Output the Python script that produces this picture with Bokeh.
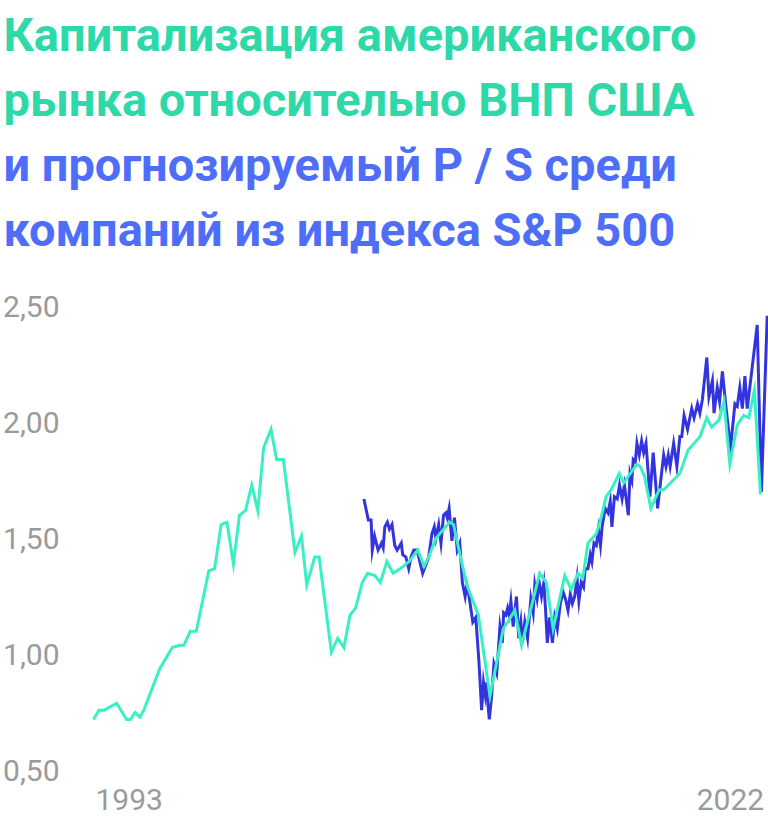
from bokeh.plotting import figure
from bokeh.models import Range1d, FixedTicker, Title, Label
from bokeh.embed import file_html
from bokeh.resources import INLINE

title_lines = [
    "Капитализация американского",
    "рынка относительно ВНП США",
    "и прогнозируемый P / S среди",
    "компаний из индекса S&P 500",
]
title_colors = ["#2ED9A9", "#2ED9A9", "#4F6EF7", "#4F6EF7"]

y_ticks = [0.5, 1.0, 1.5, 2.0, 2.5]
y_tick_labels = ["0,50", "1,00", "1,50", "2,00", "2,50"]
year_labels = ["1993", "2022"]

# market cap / GNP (quarterly-ish)
green_dates = [1993.00, 1993.24, 1993.47, 1994.00, 1994.43, 1994.60, 1994.79, 1995.00, 1995.17, 1995.86,
               1996.40, 1996.72, 1996.90, 1997.17, 1997.43, 1997.97, 1998.22, 1998.50, 1998.75, 1999.03,
               1999.29, 1999.55, 1999.82, 2000.08, 2000.33, 2000.65, 2000.89, 2001.18, 2001.68, 2001.96,
               2002.19, 2002.53, 2002.72, 2003.25, 2003.52, 2003.79, 2004.05, 2004.29, 2004.58, 2004.81,
               2005.12, 2005.36, 2005.64, 2005.91, 2006.22, 2006.59, 2006.97, 2007.24, 2007.44, 2007.75,
               2008.08, 2008.34, 2008.51, 2008.79, 2009.08, 2009.58, 2010.08, 2010.65, 2011.15, 2011.44,
               2011.87, 2012.22, 2012.51, 2012.80, 2013.30, 2013.58, 2013.87, 2014.08, 2014.30, 2014.66,
               2014.87, 2015.08, 2015.30, 2015.65, 2015.84, 2016.41, 2016.55, 2016.73, 2017.01, 2017.37,
               2017.56, 2018.26, 2018.61, 2019.13, 2019.42, 2019.63, 2019.94, 2020.16, 2020.41, 2020.73,
               2021.01, 2021.23, 2021.47, 2021.73]
green_values = [0.72, 0.76, 0.76, 0.79, 0.72, 0.72, 0.75, 0.73, 0.76, 0.94,
                1.03, 1.04, 1.04, 1.10, 1.10, 1.36, 1.37, 1.56, 1.57, 1.39,
                1.60, 1.62, 1.73, 1.62, 1.89, 1.97, 1.84, 1.84, 1.44, 1.51,
                1.30, 1.42, 1.42, 1.01, 1.07, 1.03, 1.17, 1.20, 1.31, 1.35,
                1.34, 1.31, 1.40, 1.35, 1.37, 1.40, 1.45, 1.38, 1.42, 1.50,
                1.54, 1.57, 1.56, 1.43, 1.30, 1.17, 0.82, 1.11, 1.19, 1.04,
                1.21, 1.35, 1.31, 1.11, 1.34, 1.28, 1.35, 1.33, 1.48, 1.52,
                1.59, 1.68, 1.71, 1.78, 1.74, 1.82, 1.81, 1.77, 1.63, 1.71,
                1.71, 1.78, 1.88, 1.94, 2.02, 1.98, 2.01, 2.09, 1.82, 1.99,
                2.03, 2.02, 2.14, 1.69]

# forward P/S of S&P 500 (monthly-ish)
blue_dates = [2004.65, 2004.84, 2004.96, 2005.01, 2005.11, 2005.26, 2005.41, 2005.48, 2005.55, 2005.66,
              2005.75, 2005.86, 2005.98, 2006.08, 2006.26, 2006.32, 2006.46, 2006.58, 2006.68, 2006.80,
              2006.94, 2007.01, 2007.18, 2007.44, 2007.58, 2007.68, 2007.75, 2007.87, 2007.97, 2008.08,
              2008.18, 2008.24, 2008.32, 2008.44, 2008.55, 2008.67, 2008.78, 2008.89, 2009.01, 2009.08,
              2009.18, 2009.34, 2009.47, 2009.61, 2009.72, 2009.80, 2009.87, 2009.91, 2010.05, 2010.15,
              2010.25, 2010.37, 2010.51, 2010.61, 2010.67, 2010.77, 2010.84, 2010.91, 2010.98, 2011.08,
              2011.22, 2011.32, 2011.41, 2011.48, 2011.58, 2011.70, 2011.84, 2011.94, 2012.01, 2012.11,
              2012.20, 2012.30, 2012.40, 2012.47, 2012.55, 2012.65, 2012.77, 2012.87, 2012.98, 2013.11,
              2013.23, 2013.33, 2013.44, 2013.54, 2013.63, 2013.73, 2013.83, 2013.91, 2014.01, 2014.11,
              2014.18, 2014.30, 2014.40, 2014.47, 2014.56, 2014.66, 2014.75, 2014.84, 2014.91, 2015.04,
              2015.16, 2015.26, 2015.33, 2015.44, 2015.56, 2015.66, 2015.77, 2015.87, 2016.04, 2016.11,
              2016.19, 2016.25, 2016.34, 2016.41, 2016.51, 2016.61, 2016.70, 2016.80, 2016.97, 2017.11,
              2017.30, 2017.56, 2017.66, 2017.76, 2017.84, 2017.99, 2018.13, 2018.26, 2018.34, 2018.44,
              2018.59, 2018.77, 2018.87, 2019.02, 2019.12, 2019.23, 2019.42, 2019.51, 2019.66, 2019.73,
              2019.87, 2019.97, 2020.09, 2020.23, 2020.44, 2020.63, 2020.73, 2020.84, 2020.95, 2021.06,
              2021.16, 2021.27, 2021.59, 2021.77, 2022.02]
blue_values = [1.67, 1.58, 1.58, 1.45, 1.51, 1.45, 1.48, 1.46, 1.55, 1.57,
               1.54, 1.56, 1.47, 1.45, 1.48, 1.43, 1.42, 1.37, 1.42, 1.45,
               1.45, 1.42, 1.35, 1.42, 1.52, 1.55, 1.50, 1.56, 1.48, 1.60,
               1.61, 1.59, 1.63, 1.49, 1.59, 1.45, 1.48, 1.31, 1.25, 1.30,
               1.25, 1.14, 1.16, 0.96, 0.76, 0.88, 0.83, 0.88, 0.72, 0.82,
               0.96, 0.92, 1.12, 1.05, 1.18, 1.17, 1.20, 1.17, 1.23, 1.12,
               1.25, 1.07, 1.14, 1.05, 1.14, 1.07, 1.24, 1.18, 1.30, 1.24,
               1.31, 1.25, 1.31, 1.20, 1.05, 1.16, 1.05, 1.16, 1.11, 1.22,
               1.27, 1.24, 1.19, 1.26, 1.22, 1.25, 1.33, 1.23, 1.31, 1.29,
               1.37, 1.37, 1.43, 1.40, 1.48, 1.47, 1.54, 1.47, 1.55, 1.63,
               1.61, 1.66, 1.55, 1.68, 1.67, 1.73, 1.67, 1.73, 1.60, 1.78,
               1.75, 1.84, 1.83, 1.91, 1.86, 1.92, 1.87, 1.91, 1.68, 1.87,
               1.63, 1.86, 1.81, 1.86, 1.81, 1.91, 1.81, 1.94, 1.94, 2.03,
               1.97, 2.06, 2.02, 2.08, 2.04, 2.10, 2.28, 2.11, 2.18, 2.04,
               2.15, 2.09, 2.22, 2.08, 1.89, 2.08, 2.07, 2.15, 2.06, 2.20,
               2.06, 2.15, 2.42, 1.70, 2.46]

FONT = "Roboto"
GREY = "#9A9A9A"

X0, X1 = 1992.142, 2022.076
Y0, Y1 = 0.2845, 2.698

p = figure(width=768, height=820, output_backend="svg", toolbar_location=None,
           x_range=Range1d(X0, X1), y_range=Range1d(Y0, Y1),
           min_border_left=70, min_border_right=0, min_border_top=0, min_border_bottom=0,
           x_axis_location=None)
p.outline_line_color = None
p.grid.visible = False
p.background_fill_color = "white"
p.border_fill_color = "white"

yax = p.yaxis[0]
yax.ticker = FixedTicker(ticks=y_ticks)
yax.major_label_overrides = {t: lab for t, lab in zip(y_ticks, y_tick_labels)}
yax.axis_line_color = None
yax.major_tick_line_color = None
yax.minor_tick_line_color = None
yax.major_label_text_color = GREY
yax.major_label_text_font = FONT
yax.major_label_text_font_size = "30px"
yax.major_label_standoff = 8

p.line(blue_dates, blue_values, line_color="#3434DE", line_width=3, line_join="miter")
p.line(green_dates, green_values, line_color="#38F0C4", line_width=3, line_join="miter")

label_y = Y0 + 0.092
for txt, xpos, al, dx in zip(year_labels, [green_dates[0], blue_dates[-1]],
                             ["left", "right"], [2, -3]):
    p.add_layout(Label(x=xpos, y=label_y, x_offset=dx, text=txt, text_align=al,
                       text_baseline="alphabetic", text_font=FONT, text_font_size="30px",
                       text_color=GREY))

for line, col in reversed(list(zip(title_lines, title_colors))):
    p.add_layout(Title(text=line, text_color=col, text_font=FONT, text_font_style="bold",
                       text_font_size="47px", align="left", offset=-70, standoff=8), "above")

open("out.html", "w").write(file_html(p, INLINE))
